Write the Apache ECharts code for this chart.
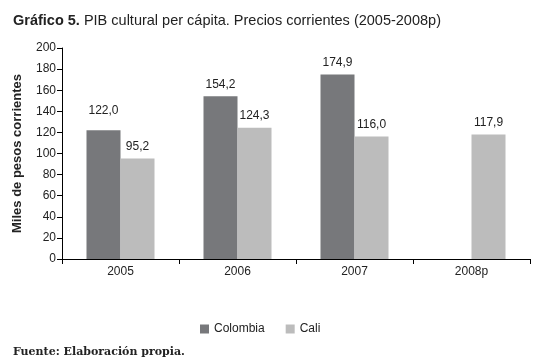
<!DOCTYPE html>
<html>
<head>
<meta charset="utf-8">
<script src="https://cdn.jsdelivr.net/npm/echarts@6/dist/echarts.min.js"></script>
<style>
  html, body { margin: 0; padding: 0; background: #fff; }
  #chart { width: 541px; height: 363px; }
</style>
</head>
<body>
<div id="chart"></div>
<script>
// datos
var years = ['2005', '2006', '2007', '2008p'];
var colombia = [122.0, 154.2, 174.9, null];
var cali = [95.2, 124.3, 116.0, 117.9];

var narrow = '"Liberation Sans Narrow", "Liberation Sans", Arial, sans-serif';

function fmt(p) {
	return p.value == null ? '' : p.value.toFixed(1).replace('.', ',');
}

var chart = echarts.init(document.getElementById('chart'));

chart.setOption({
	animation: false,
	backgroundColor: '#fff',
	title: [{
		left: 8,
		top: 8,
		text: '{b|Gráfico 5.} PIB cultural per cápita. Precios corrientes (2005-2008p)',
		textStyle: {
			fontFamily: '"Liberation Sans", Arial, sans-serif',
			fontSize: 14.5,
			fontWeight: 'normal',
			color: '#222',
			rich: {
				b: { fontFamily: '"Liberation Sans", Arial, sans-serif', fontSize: 14.5, fontWeight: 'bold', color: '#222' }
			}
		}
	}, {
		left: 8,
		top: 342,
		text: 'Fuente: Elaboración propia.',
		textStyle: {
			fontFamily: '"DejaVu Serif", serif',
			fontSize: 11,
			fontWeight: 'bold',
			color: '#222'
		}
	}],
	legend: {
		left: 195,
		top: 318,
		itemWidth: 9,
		itemHeight: 9,
		itemGap: 21,
		icon: 'rect',
		textStyle: { fontFamily: narrow, fontSize: 12, color: '#222' },
		data: ['Colombia', 'Cali']
	},
	grid: { left: 62, right: 11, top: 48, bottom: 104 },
	xAxis: {
		type: 'category',
		data: years,
		axisLine: { lineStyle: { color: '#000', width: 1 } },
		axisTick: { show: true, length: 5, lineStyle: { color: '#000' } },
		axisLabel: { fontFamily: narrow, fontSize: 12, color: '#222', margin: 7 }
	},
	yAxis: {
		type: 'value',
		min: 0,
		max: 200,
		interval: 20,
		name: 'Miles de pesos corrientes',
		nameLocation: 'middle',
		nameGap: 38,
		nameTextStyle: { fontFamily: narrow, fontSize: 13, fontWeight: 'bold', color: '#222' },
		axisLine: { show: true, lineStyle: { color: '#000', width: 1 } },
		axisTick: { show: true, length: 5, lineStyle: { color: '#000' } },
		splitLine: { show: false },
		axisLabel: { fontFamily: narrow, fontSize: 12, color: '#222', margin: 6 }
	},
	series: [{
		name: 'Colombia',
		type: 'bar',
		barWidth: 34,
		barGap: '0%',
		itemStyle: { color: '#77787b' },
		label: {
			show: true, position: 'top', distance: 6,
			fontFamily: narrow, fontSize: 12, color: '#222', formatter: fmt
		},
		data: colombia.map(function (v, i) {
			// la etiqueta de 2005 va más alta en el original
			return i === 0 ? { value: v, label: { distance: 14 } } : v;
		})
	}, {
		name: 'Cali',
		type: 'bar',
		barWidth: 34,
		itemStyle: { color: '#bcbcbc' },
		label: {
			show: true, position: 'top', distance: 6,
			fontFamily: narrow, fontSize: 12, color: '#222', formatter: fmt
		},
		data: cali
	}]
});
</script>
</body>
</html>
